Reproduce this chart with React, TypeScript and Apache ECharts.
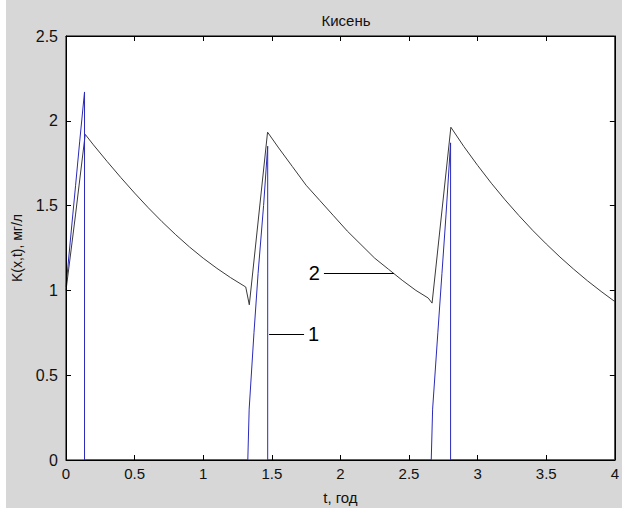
import React, { useEffect, useRef } from "react";
import * as echarts from "echarts";

// Curve 1: oxygen at the point (blue), pulses then zero
const tCurve1 = [0, 0.03, 0.07, 0.1, 0.135, 0.135, 1.325, 1.335, 1.37, 1.4, 1.44, 1.47, 1.47, 2.662, 2.672, 2.71, 2.74, 2.77, 2.803, 2.803, 4];
const kCurve1 = [1.02, 1.28, 1.62, 1.88, 2.17, 0, 0, 0.3, 0.75, 1.1, 1.5, 1.85, 0, 0, 0.3, 0.75, 1.1, 1.45, 1.87, 0, 0];

// Curve 2: oxygen (black), rise then decay in each cycle
const tCurve2 = [
  0, 0.07, 0.14, 0.2, 0.3, 0.4, 0.5, 0.6, 0.7, 0.8, 0.9, 1.0, 1.1, 1.2, 1.31, 1.336,
  1.469, 1.55, 1.65, 1.75, 1.85, 1.95, 2.05, 2.15, 2.25, 2.35, 2.45, 2.55, 2.64, 2.668,
  2.805, 2.9, 3.0, 3.1, 3.2, 3.3, 3.4, 3.5, 3.6, 3.7, 3.8, 3.9, 4.0,
];
const kCurve2 = [
  1.0, 1.45, 1.92, 1.858, 1.76, 1.665, 1.574, 1.487, 1.405, 1.328, 1.256, 1.19, 1.13, 1.075, 1.02, 0.915,
  1.933, 1.84, 1.73, 1.62, 1.53, 1.44, 1.35, 1.27, 1.19, 1.125, 1.06, 1.0, 0.955, 0.925,
  1.962, 1.848, 1.737, 1.632, 1.534, 1.442, 1.355, 1.274, 1.197, 1.125, 1.057, 0.994, 0.934,
];

const xMin = 0, xMax = 4, xStep = 0.5;
const yMin = 0, yMax = 2.5, yStep = 0.5;

const FONT = "'Liberation Sans', Arial, sans-serif";

function pairs(t: number[], k: number[]) {
  return t.map((v, i) => [v, k[i]]);
}

export default function App() {
  const ref = useRef<HTMLDivElement>(null);

  useEffect(() => {
    document.body.style.margin = "0";
    const chart = echarts.init(ref.current!, null, { renderer: "svg" });

    const axisCommon = {
      z: 10,
      axisLine: { show: true, onZero: false, lineStyle: { color: "#000", width: 1 } },
      axisTick: { show: true, inside: true, length: 5, lineStyle: { color: "#000" } },
      splitLine: { show: false },
    };

    chart.setOption({
      animation: false,
      backgroundColor: "#ffffff",
      graphic: [
        {
          type: "rect",
          z: -10,
          shape: { x: 6, y: 0, width: 616, height: 508 },
          style: { fill: "#d7d7d7" },
        },
      ],
      title: {
        text: "Кисень",
        left: 341,
        top: 8,
        textAlign: "center",
        textStyle: { fontFamily: FONT, fontSize: 15, fontWeight: "normal", color: "#111" },
      },
      grid: {
        left: 66,
        right: 5,
        top: 36,
        bottom: 45,
        show: true,
        backgroundColor: "#ffffff",
        borderColor: "#000",
        borderWidth: 1,
      },
      xAxis: [
        {
          type: "value",
          min: xMin,
          max: xMax,
          interval: xStep,
          position: "bottom",
          ...axisCommon,
          axisLabel: { color: "#111", fontFamily: FONT, fontSize: 15, margin: 6 },
          name: "t, год",
          nameLocation: "middle",
          nameGap: 30,
          nameTextStyle: { color: "#111", fontFamily: FONT, fontSize: 15 },
        },
        {
          type: "value",
          min: xMin,
          max: xMax,
          interval: xStep,
          position: "top",
          ...axisCommon,
          axisLabel: { show: false },
        },
      ],
      yAxis: [
        {
          type: "value",
          min: yMin,
          max: yMax,
          interval: yStep,
          position: "left",
          ...axisCommon,
          axisLabel: { color: "#111", fontFamily: FONT, fontSize: 16, margin: 8 },
          name: "K(x,t), мг/л",
          nameLocation: "middle",
          nameGap: 42,
          nameTextStyle: { color: "#111", fontFamily: FONT, fontSize: 14 },
        },
        {
          type: "value",
          min: yMin,
          max: yMax,
          interval: yStep,
          position: "right",
          ...axisCommon,
          axisLabel: { show: false },
        },
      ],
      series: [
        {
          name: "2",
          type: "line",
          data: pairs(tCurve2, kCurve2),
          showSymbol: false,
          symbol: "none",
          lineStyle: { color: "#3a3a3a", width: 1 },
          z: 2,
          markLine: {
            silent: true,
            symbol: "none",
            lineStyle: { color: "#000", width: 1, type: "solid" },
            label: {
              show: true,
              formatter: "{b}",
              fontFamily: FONT,
              fontSize: 20,
              color: "#000",
              distance: 4,
            },
            data: [
              [
                { name: "2", coord: [1.88, 1.1], label: { position: "start" } },
                { coord: [2.39, 1.1] },
              ],
              [
                { name: "1", coord: [1.48, 0.74], label: { position: "end" } },
                { coord: [1.735, 0.74] },
              ],
            ],
          },
        },
        {
          name: "1",
          type: "line",
          data: pairs(tCurve1, kCurve1),
          showSymbol: false,
          symbol: "none",
          lineStyle: { color: "#2a2ab8", width: 1 },
          z: 3,
        },
      ],
    });

    return () => chart.dispose();
  }, []);

  return <div ref={ref} style={{ width: 622, height: 510 }} />;
}
